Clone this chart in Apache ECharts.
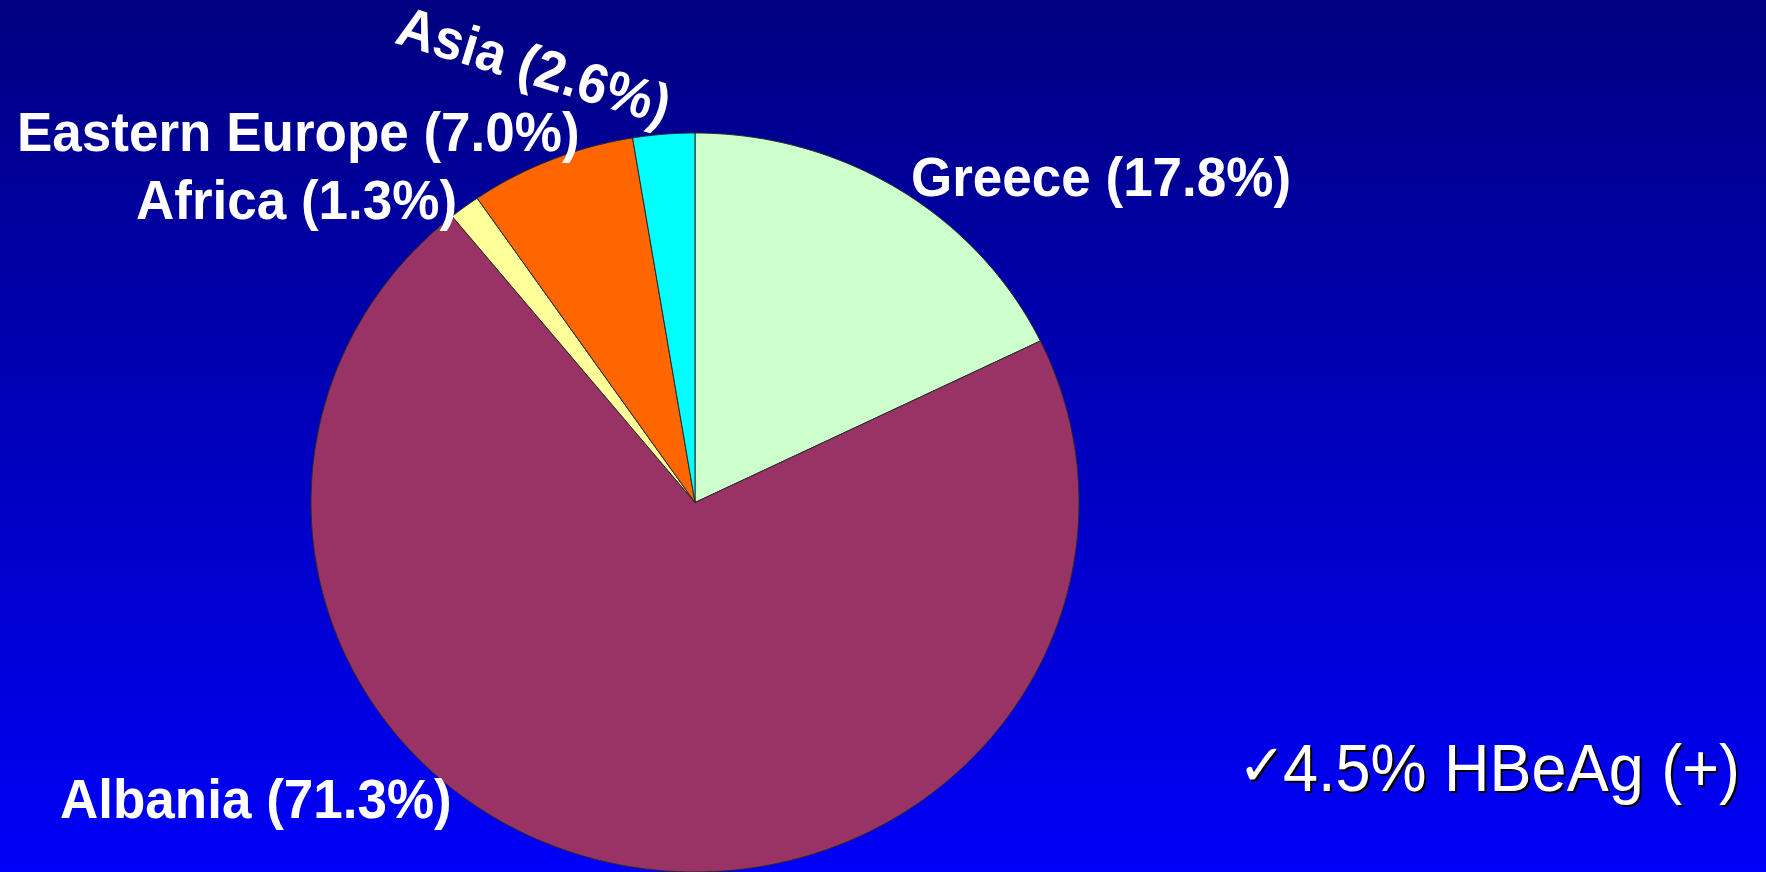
<!DOCTYPE html>
<html>
<head>
<meta charset="utf-8">
<title>Origin of HBsAg carriers</title>
<script src="https://cdn.jsdelivr.net/npm/echarts@6/dist/echarts.min.js"></script>
<style>
  html, body { margin: 0; padding: 0; background: #000080; }
  #chart { width: 1766px; height: 872px; }
</style>
</head>
<body>
<div id="chart"></div>
<script>
// ---- data ----
const regions = ['Greece', 'Albania', 'Africa', 'Eastern Europe', 'Asia'];
const shares = [17.8, 71.3, 1.3, 7.0, 2.6];
const sliceColors = ['#CCFFCC', '#993366', '#FFFF99', '#FF6600', '#00FFFF'];
const noteMark = '\u2713';
const noteText = '4.5% HBeAg (+)';

// ---- label layout (pixel anchors: left edge / centre of the text line) ----
const labelLayout = [
  { x: 911, y: 181, align: 'left', rot: 0 },     // Greece
  { x: 60,  y: 803, align: 'left', rot: 0 },     // Albania
  { x: 136, y: 204, align: 'left', rot: 0 },     // Africa
  { x: 17,  y: 136, align: 'left', rot: 0 },     // Eastern Europe
  { x: 533, y: 69,  align: 'center', rot: -17 }  // Asia
];

// cumulative start / end fractions, clockwise from 12 o'clock
const total = shares.reduce((a, b) => a + b, 0);
let running = 0;
const sliceData = shares.map((v, i) => {
  const start = running / total;
  running += v;
  return { name: regions[i], value: [start, running / total, v] };
});

const LABEL_FONT = 'bold 53px "Liberation Sans", Arial, sans-serif';

const labelGraphics = regions.map((name, i) => {
  const L = labelLayout[i];
  return {
    type: 'text',
    x: L.x,
    y: L.y,
    rotation: L.rot * Math.PI / 180,
    scaleY: 1.06,
    z: 10,
    style: {
      text: name + ' (' + shares[i].toFixed(1) + '%)',
      fill: '#FFFFFF',
      font: LABEL_FONT,
      textAlign: L.align,
      align: L.align,
      textVerticalAlign: 'middle',
      verticalAlign: 'middle'
    }
  };
});

// note with a hard drop shadow (drawn twice: black offset copy underneath)
function noteElems(dx, dy, color, z) {
  return [
    {
      type: 'text', x: 1262 + dx, y: 770 + dy, z: z,
      style: {
        text: noteMark, fill: color,
        font: '58px "DejaVu Sans", sans-serif',
        textAlign: 'center', align: 'center',
        textVerticalAlign: 'middle', verticalAlign: 'middle'
      }
    },
    {
      type: 'text', x: 1283 + dx, y: 772 + dy, z: z, scaleY: 1.07,
      style: {
        text: noteText, fill: color,
        font: '63px "Liberation Sans", Arial, sans-serif',
        textAlign: 'left', align: 'left',
        textVerticalAlign: 'middle', verticalAlign: 'middle'
      }
    }
  ];
}

const chart = echarts.init(document.getElementById('chart'), null, { renderer: 'canvas' });

chart.setOption({
  animation: false,
  backgroundColor: {
    type: 'linear', x: 0, y: 0, x2: 0, y2: 1,
    colorStops: [
      { offset: 0, color: '#000080' },
      { offset: 1, color: '#0000F8' }
    ]
  },
  // unit square mapped onto the (slightly oval) pie bounds
  grid: { left: 311, top: 133, width: 768, height: 740, containLabel: false },
  xAxis: { type: 'value', min: -1, max: 1, show: false },
  yAxis: { type: 'value', min: -1, max: 1, show: false },
  series: [{
    type: 'custom',
    coordinateSystem: 'cartesian2d',
    clip: false,
    encode: { x: 0, y: 1 },
    data: sliceData,
    renderItem: function (params, api) {
      const a0 = api.value(0) * Math.PI * 2;
      const a1 = api.value(1) * Math.PI * 2;
      const steps = Math.max(2, Math.ceil((a1 - a0) / (Math.PI / 360)));
      const pts = [api.coord([0, 0])];
      for (let k = 0; k <= steps; k++) {
        const a = a0 + (a1 - a0) * k / steps;
        pts.push(api.coord([Math.sin(a), Math.cos(a)]));
      }
      return {
        type: 'polygon',
        shape: { points: pts },
        style: {
          fill: sliceColors[params.dataIndex],
          stroke: '#2a2a2a',
          lineWidth: 1
        }
      };
    }
  }],
  graphic: labelGraphics
    .concat(noteElems(2, 2, '#000000', 10))
    .concat(noteElems(0, 0, '#FFFFFF', 11))
});
</script>
</body>
</html>
